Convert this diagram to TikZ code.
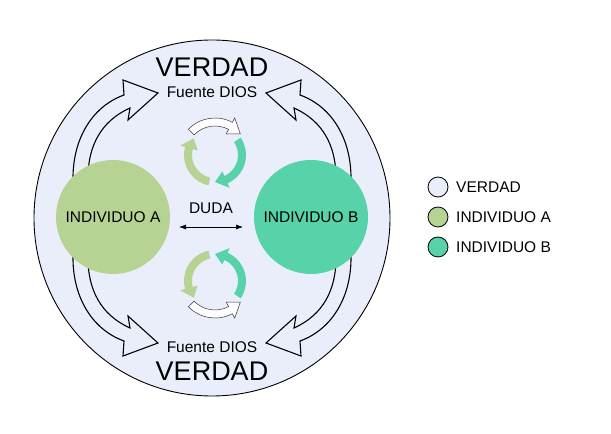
\documentclass[tikz,border=0pt]{standalone}
\usepackage{fontspec}
\setmainfont{Liberation Sans}
\usetikzlibrary{arrows.meta}
\definecolor{verdadfill}{HTML}{EAEEFA}
\definecolor{indAfill}{HTML}{B6D393}
\definecolor{indBfill}{HTML}{57D2A9}
% one hollow block arrow, drawn round the origin (centre of the big circle)
\newcommand{\truthArrow}{%
\draw [outline] (-139,0) -- (-139,40) .. controls (-139,78) and (-121,111) .. (-88,123)
  -- (-89,138) -- (-54,125) -- (-84,98) -- (-82,110)
  .. controls (-111,97) and (-124,72) .. (-124,40) -- (-124,0);
}
% #1 start angle, #2 head base angle, #3 tip angle, #4 radius, #5 style
\newcommand{\loopArrow}[5]{%
\draw [#5] ({#1}:{#4+4}) arc [start angle=#1, end angle=#2, radius=#4+4]
  -- ({#2}:{#4+9}) -- ({#3}:{#4}) -- ({#2}:{#4-9}) -- ({#2}:{#4-4})
  arc [start angle=#2, end angle=#1, radius=#4-4] -- cycle;
}
\begin{document}
\begin{tikzpicture}[x=1pt, y=1pt,
  outline/.style={draw=black, line width=1.1pt, line join=miter},
  label/.style={font=\fontsize{15.5}{18}\selectfont, inner sep=0},
  bigword/.style={font=\fontsize{27}{30}\selectfont, inner sep=0},
  person/.style={circle, minimum size=114pt, inner sep=0, font=\fontsize{15.5}{18}\selectfont},
  keydot/.style={circle, draw=black, line width=0.8pt, minimum size=20pt, inner sep=0},
  hollowloop/.style={draw=black!80, line width=0.5pt, fill=white},
  greenloop/.style={draw=none, fill=indAfill},
  tealloop/.style={draw=none, fill=indBfill}]
\useasboundingbox (0,0) rectangle (611,434);
\node [circle, draw=black, line width=0.9pt, fill=verdadfill, minimum size=356pt, inner sep=0] (verdad) at (212,216) {};
% block arrows, four times mirrored
\begin{scope}[shift={(212,216)}]
\truthArrow
\end{scope}
\begin{scope}[shift={(212,216)}, xscale=-1]
\truthArrow
\end{scope}
\begin{scope}[shift={(212,216)}, yscale=-1]
\truthArrow
\end{scope}
\begin{scope}[shift={(212,216)}, xscale=-1, yscale=-1]
\truthArrow
\end{scope}
% small cycles
\begin{scope}[shift={(215,279)}]
\loopArrow{136}{62}{40}{33}{hollowloop}
\loopArrow{34}{-66}{-90}{27}{tealloop}
\loopArrow{258}{165}{142}{27}{greenloop}
\end{scope}
\begin{scope}[shift={(215,153)}, yscale=-1]
\loopArrow{136}{62}{40}{33}{hollowloop}
\loopArrow{34}{-66}{-90}{27}{tealloop}
\loopArrow{258}{165}{142}{27}{greenloop}
\end{scope}
\node [person, fill=indAfill] (indA) at (113,217) {INDIVIDUO A};
\node [person, fill=indBfill] (indB) at (311,217) {INDIVIDUO B};
\node [bigword] (verdadTop) at (212,367) {VERDAD};
\node [label] (fuenteTop) at (212,342) {Fuente DIOS};
\node [label] (fuenteBot) at (212,87) {Fuente DIOS};
\node [bigword] (verdadBot) at (212,63) {VERDAD};
\node [label] (duda) at (211,226) {DUDA};
\coordinate (dudaL) at (179,207);
\coordinate (dudaR) at (243,207);
\draw [{Latex[length=7pt,width=5pt]}-{Latex[length=7pt,width=5pt]}, line width=0.6pt] (dudaL) -- (dudaR);
% legend
\node [keydot, fill=verdadfill] (keyV) at (438,247) {};
\node [keydot, fill=indAfill] (keyA) at (438,217) {};
\node [keydot, fill=indBfill] (keyB) at (438,187) {};
\node [label, anchor=west] (keyVtext) at (456,247) {VERDAD};
\node [label, anchor=west] (keyAtext) at (456,217) {INDIVIDUO A};
\node [label, anchor=west] (keyBtext) at (456,187) {INDIVIDUO B};
\end{tikzpicture}
\end{document}
